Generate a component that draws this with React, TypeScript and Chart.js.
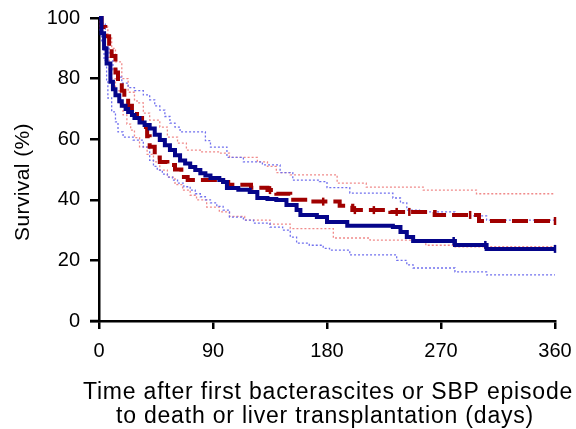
import React, { useEffect, useRef } from 'react';
import { Chart, registerables } from 'chart.js';
Chart.register(...registerables);

// ---- Data (days, survival %) ----
const blueT = [0, 2, 4, 6, 9, 11, 13, 16, 18, 21, 23, 26, 28, 32, 36, 40, 44, 48, 52, 56, 60, 64, 68, 72, 76, 80, 84, 88, 95, 98, 101, 110, 119, 125, 133, 140, 148, 156, 159, 172, 180, 196, 232, 238, 243, 248, 281, 306, 360];
const blueS = [100, 95, 90, 85, 79, 76.5, 74.5, 72.5, 71, 70, 69, 68, 67, 65.5, 64.7, 63.5, 61.5, 59.7, 58, 56.4, 54.7, 53, 52, 50.8, 49.8, 48.8, 48, 47.2, 46.5, 45.9, 43.9, 43.3, 42.6, 40.6, 40.3, 39.9, 38.3, 36.6, 35, 34.3, 32.7, 31.4, 31, 29.4, 27.7, 26.4, 25.1, 23.8, 23.8];

const redT = [0, 2, 5, 8, 10, 13, 15, 18, 20, 23, 26, 30, 34, 38, 40, 44, 48, 54, 60, 65, 70, 98, 102, 120, 133, 140, 151, 165, 190, 200, 230, 265, 300, 360];
const redS = [100, 97, 94, 90, 87.5, 82, 79, 76, 73.5, 71, 69, 67, 64, 61, 57.5, 54, 52.5, 51.5, 50, 47.5, 46.5, 45.9, 45, 44, 43.2, 42, 40, 39.4, 38, 36.6, 36, 35, 33, 33];

const blueUpT = [0, 2, 5, 8, 11, 14, 18, 23, 28, 35, 40, 44, 48, 52, 56, 60, 64, 84, 88, 101, 114, 129, 143, 153, 174, 180, 198, 232, 238, 243, 253, 281, 306, 360];
const blueUpS = [100, 98, 94, 88, 83, 80.5, 78.5, 77, 76, 74.6, 73, 71, 69.6, 67.5, 65.3, 64, 62.4, 59.5, 57.4, 54, 52.5, 51.5, 49, 46.5, 46, 44, 42.2, 40.6, 39, 36.6, 36, 34.7, 33.3, 33.3];

const blueLoT = [0, 1, 2, 4, 6, 7, 10, 13, 15, 19, 27, 35, 40, 43, 46, 50, 54, 58, 62, 67, 72, 76, 80, 84, 88, 93, 98, 103, 114, 122, 135, 145, 151, 156, 166, 177, 182, 198, 235, 243, 248, 281, 306, 360];
const blueLoS = [100, 96, 92, 86, 79, 73.6, 69, 65.7, 62.4, 60.7, 59.7, 57.4, 53, 51, 49.8, 48.5, 47.5, 46.5, 45.5, 44.3, 43.2, 42, 41, 40, 39, 37.8, 36.6, 34.3, 33.3, 32.3, 31, 30, 27.7, 25.7, 25, 24, 23.4, 21.8, 20, 18.5, 17.5, 16.2, 15.2, 15.2];

const redUpT = [0, 3, 7, 10, 13, 18, 23, 28, 30, 35, 40, 48, 54, 62, 69, 80, 96, 103, 125, 133, 140, 151, 188, 211, 256, 298, 360];
const redUpS = [100, 97, 93.4, 90, 85.5, 80, 75.5, 73, 72, 68.6, 66.3, 64, 60.7, 58.7, 56.4, 55.8, 55.4, 54, 52.5, 51, 49, 48.2, 45.5, 44.2, 43.2, 42, 42];

const redLoT = [0, 2, 4, 6, 8, 10, 13, 16, 19, 22, 25, 28, 32, 38, 43, 48, 54, 60, 66, 72, 77, 85, 95, 103, 115, 135, 151, 185, 214, 258, 280, 360];
const redLoS = [100, 95, 91, 87, 83, 80, 76, 72, 68, 65, 63, 60.5, 57.5, 55, 52.5, 49.8, 47.5, 45, 43.2, 41.5, 40, 37.6, 36, 34.5, 33.3, 32, 30.5, 27.4, 26.7, 25, 24.5, 24.5];

const redCensorT = [135, 177, 202, 217, 235, 245, 293, 360];
const blueCensorT = [280, 305, 360];

const xTickValues = [0, 90, 180, 270, 360];
const yTickValues = [0, 20, 40, 60, 80, 100];
const xTitle = ['Time after first bacterascites or SBP episode', 'to death or liver transplantation (days)'];
const yTitle = 'Survival (%)';

const FONT = '"Liberation Sans", Arial, sans-serif';

const pts = (T: number[], S: number[]) => T.map((t, i) => ({ x: t, y: S[i] }));
const stepAt = (T: number[], S: number[], t: number) => {
  let v = S[0];
  for (let i = 0; i < T.length; i++) if (T[i] <= t) v = S[i];
  return v;
};

export default function App() {
  const ref = useRef<HTMLCanvasElement | null>(null);
  useEffect(() => {
    if (!ref.current) return;
    const axisExtras = {
      id: 'axisExtras',
      afterDraw(chart: any) {
        const { ctx, scales, chartArea } = chart;
        const x0 = scales.x.getPixelForValue(0);
        const y0 = scales.y.getPixelForValue(0);
        ctx.save();
        ctx.strokeStyle = '#000';
        ctx.lineWidth = 2.5;
        ctx.beginPath();
        ctx.moveTo(x0 - 9, y0);
        ctx.lineTo(x0, y0);
        ctx.stroke();
        ctx.fillStyle = '#000';
        // x-axis title (two lines)
        ctx.font = `23px ${FONT}`;
        (ctx as any).letterSpacing = '0.8px';
        ctx.textAlign = 'center';
        ctx.textBaseline = 'alphabetic';
        const cx = (chartArea.left + chartArea.right) / 2;
        ctx.fillText(xTitle[0], cx + 1, y0 + 78);
        ctx.fillText(xTitle[1], cx - 2, y0 + 102);
        // y-axis title
        ctx.font = `21px ${FONT}`;
        (ctx as any).letterSpacing = '0.4px';
        ctx.textBaseline = 'middle';
        ctx.translate(23, 182);
        ctx.rotate(-Math.PI / 2);
        ctx.fillText(yTitle, 0, 0);
        ctx.restore();
      },
    };
    const ciStyle = (color: string) => ({
      borderColor: color,
      borderWidth: 1.3,
      borderDash: [2, 2],
      pointRadius: 0,
      stepped: 'before' as const,
      fill: false,
      clip: false as any,
    });
    const censorStyle = (color: string) => ({
      showLine: false,
      pointStyle: 'line' as const,
      rotation: 90,
      pointRadius: 4,
      pointBorderWidth: 2.5,
      borderColor: color,
      backgroundColor: color,
      clip: false as any,
    });
    const chart = new Chart(ref.current, {
      type: 'line',
      data: {
        datasets: [
          {
            data: pts(blueT, blueS),
            borderColor: '#05058a',
            borderWidth: 4,
            pointRadius: 0,
            stepped: 'before',
            fill: false,
            clip: false as any,
          },
          { data: blueCensorT.map((t) => ({ x: t, y: stepAt(blueT, blueS, t) })), ...censorStyle('#05058a') },
          {
            data: pts(redT, redS),
            borderColor: '#a00000',
            borderWidth: 4,
            borderDash: [16, 6],
            pointRadius: 0,
            stepped: 'before',
            fill: false,
            clip: false as any,
          },
          { data: redCensorT.map((t) => ({ x: t, y: stepAt(redT, redS, t) })), ...censorStyle('#a00000') },
          { data: pts(blueUpT, blueUpS), ...ciStyle('#7070ee') },
          { data: pts(blueLoT, blueLoS), ...ciStyle('#7070ee') },
          { data: pts(redUpT, redUpS), ...ciStyle('#f08a8a') },
          { data: pts(redLoT, redLoS), ...ciStyle('#f08a8a') },
        ] as any,
      },
      options: {
        responsive: false,
        animation: false,
        events: [],
        layout: { padding: { left: 0, top: 18, right: 21, bottom: 0 } },
        plugins: { legend: { display: false }, tooltip: { enabled: false } },
        scales: {
          x: {
            type: 'linear',
            min: 0,
            max: 360,
            afterFit: (s: any) => { s.height = 108; s.paddingLeft = 0; s.paddingRight = 0; },
            afterBuildTicks: (s: any) => { s.ticks = xTickValues.map((v) => ({ value: v })); },
            ticks: { color: '#000', font: { family: FONT, size: 20 }, padding: 10, maxRotation: 0 },
            grid: { display: true, drawOnChartArea: false, drawTicks: true, tickLength: 8, color: '#000', lineWidth: 2.5 },
            border: { display: true, color: '#000', width: 2.5 },
            title: { display: false },
          },
          y: {
            type: 'linear',
            min: 0,
            max: 100,
            afterFit: (s: any) => { s.width = 99; s.paddingTop = 0; s.paddingBottom = 0; },
            afterBuildTicks: (s: any) => { s.ticks = yTickValues.map((v) => ({ value: v })); },
            ticks: { color: '#000', font: { family: FONT, size: 20 }, padding: 10 },
            grid: { display: true, drawOnChartArea: false, drawTicks: true, tickLength: 9, color: '#000', lineWidth: 2.5 },
            border: { display: true, color: '#000', width: 2.5 },
          },
        },
      },
      plugins: [axisExtras],
    });
    return () => chart.destroy();
  }, []);
  return (
    <div style={{ position: 'absolute', left: 0, top: 0, width: 576, height: 429, background: '#fff' }}>
      <canvas ref={ref} width={576} height={429} />
    </div>
  );
}
